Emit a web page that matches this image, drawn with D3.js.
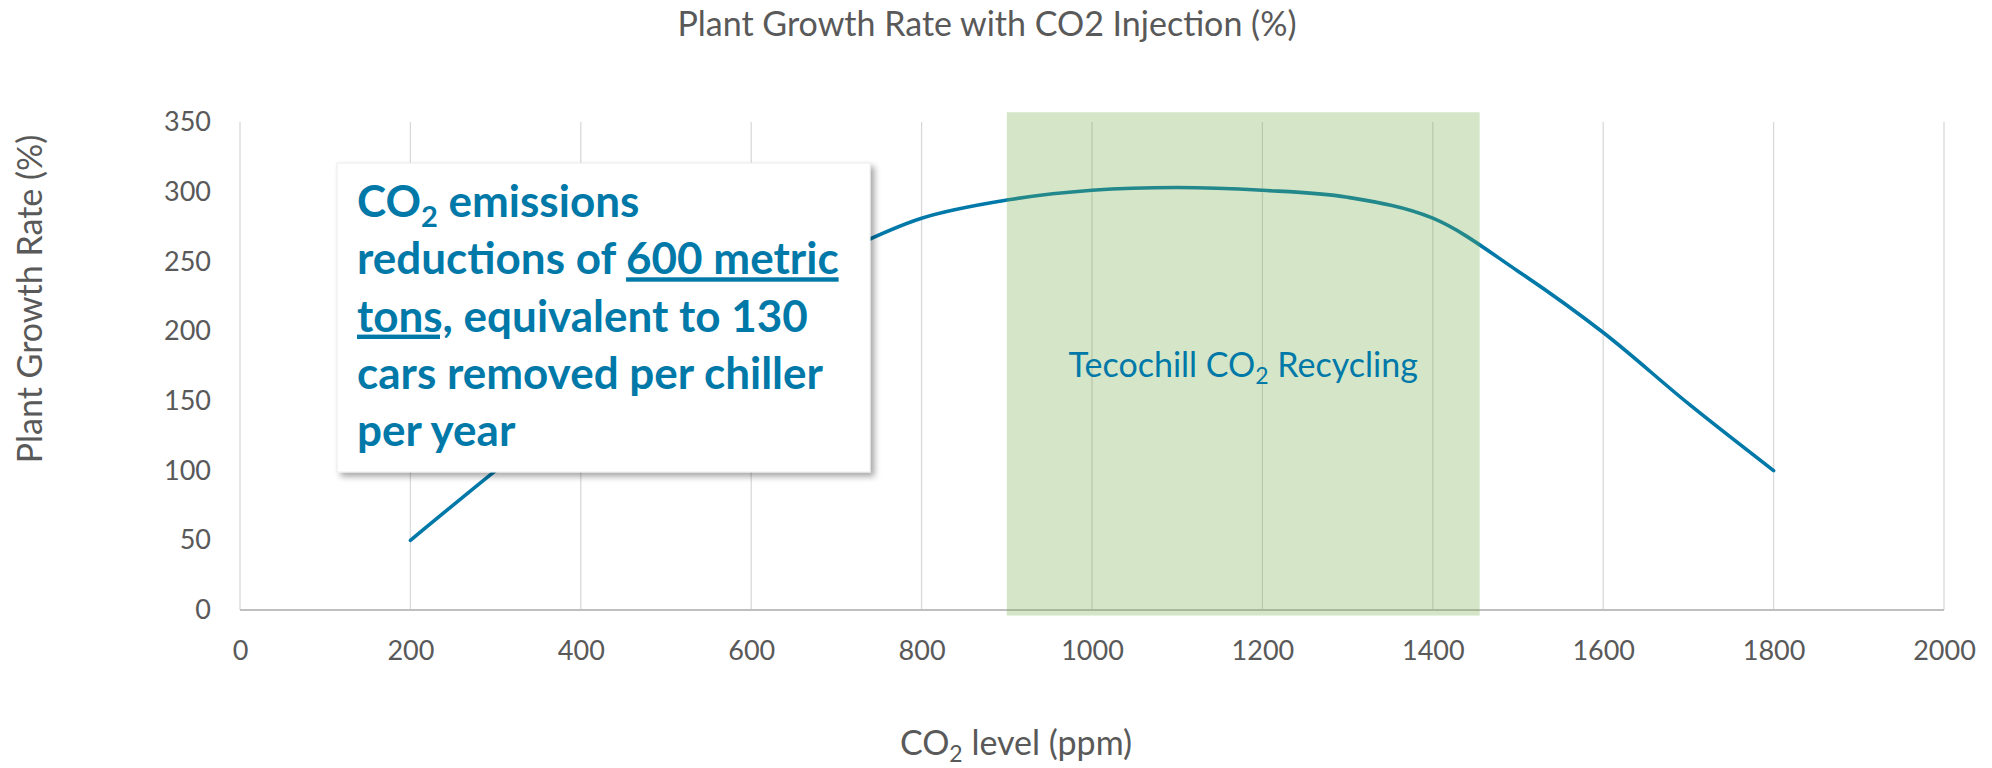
<!DOCTYPE html>
<html lang="en">
<head>
<meta charset="UTF-8">
<title>Plant Growth Rate with CO2 Injection</title>
<script src="https://d3js.org/d3.v7.min.js"></script>
<style>
  body { margin: 0; background: #fff; }
  svg text { font-family: Lato, "Open Sans", sans-serif; }
  .tick text { fill: #595959; font-size: 27px; }
  .note { fill: #0079a9; font-weight: 700; font-size: 44px; }
  .u { text-decoration: underline; text-decoration-skip-ink: none; }
</style>
</head>
<body>
<script>
// data (the part under the note box is estimated)
const co2Level   = [200, 300, 400, 500, 600, 700, 800, 900, 1000, 1100, 1200, 1300, 1400, 1500, 1600, 1700, 1800];
const growthRate = [ 50, 100, 148, 190, 225, 255, 281, 294,  301,  303,  301,  296,  281,  243,  199,  148,  100];

const xTickValues = [0, 200, 400, 600, 800, 1000, 1200, 1400, 1600, 1800, 2000];
const yTickValues = [0, 50, 100, 150, 200, 250, 300, 350];

// shaded "Tecochill" range on the x axis, and its vertical extent in %
const bandRange  = [900, 1455];
const bandHeight = [-4, 357];

const width = 1992, height = 768;
const margin = { top: 122, right: 48, bottom: 158, left: 240 };

const svg = d3.select('body').append('svg')
    .attr('width', width)
    .attr('height', height);

const xScale = d3.scaleLinear().domain([0, 2000]).range([margin.left, width - margin.right]);
const yScale = d3.scaleLinear().domain([0, 350]).range([height - margin.bottom, margin.top]);

// drop shadow for the note box
const defs = svg.append('defs');
defs.append('filter').attr('id', 'shadow')
    .attr('x', '-10%').attr('y', '-10%').attr('width', '130%').attr('height', '130%')
  .append('feDropShadow')
    .attr('dx', 4).attr('dy', 4).attr('stdDeviation', 3)
    .attr('flood-color', '#000').attr('flood-opacity', 0.35);

// vertical gridlines
svg.append('g')
    .selectAll('line')
    .data(xTickValues)
    .join('line')
    .attr('x1', d => xScale(d)).attr('x2', d => xScale(d))
    .attr('y1', yScale(350)).attr('y2', yScale(0))
    .attr('stroke', '#d9d9d9')
    .attr('stroke-width', 1.3);

// x axis labels
const xAxis = d3.axisBottom(xScale).tickValues(xTickValues).tickFormat(d3.format('d'))
    .tickSize(0).tickPadding(31);
svg.append('g')
    .attr('transform', 'translate(0,' + yScale(0) + ')')
    .call(xAxis)
    .call(g => g.select('.domain').remove());

// y axis labels
const yAxis = d3.axisLeft(yScale).tickValues(yTickValues).tickSize(0).tickPadding(29);
svg.append('g')
    .attr('transform', 'translate(' + margin.left + ',0)')
    .call(yAxis)
    .call(g => g.select('.domain').remove());

// x axis line
svg.append('line')
    .attr('x1', xScale(0)).attr('x2', xScale(2000))
    .attr('y1', yScale(0)).attr('y2', yScale(0))
    .attr('stroke', '#bfbfbf')
    .attr('stroke-width', 2);

// growth curve
const line = d3.line()
    .x((d, i) => xScale(co2Level[i]))
    .y(d => yScale(d))
    .curve(d3.curveCatmullRom.alpha(0.5));

svg.append('path')
    .datum(growthRate)
    .attr('d', line)
    .attr('fill', 'none')
    .attr('stroke', '#0079a9')
    .attr('stroke-width', 3.6)
    .attr('stroke-linecap', 'round');

// green band drawn over the line, semi transparent
svg.append('rect')
    .attr('x', xScale(bandRange[0]))
    .attr('width', xScale(bandRange[1]) - xScale(bandRange[0]))
    .attr('y', yScale(bandHeight[1]))
    .attr('height', yScale(bandHeight[0]) - yScale(bandHeight[1]))
    .attr('fill', '#70ad47')
    .attr('fill-opacity', 0.3);

const bandText = svg.append('text')
    .attr('x', xScale((bandRange[0] + bandRange[1]) / 2))
    .attr('y', 377)
    .attr('text-anchor', 'middle')
    .attr('fill', '#0079a9')
    .attr('font-size', 34);
bandText.append('tspan').text('Tecochill CO');
bandText.append('tspan').attr('font-size', 23).attr('dy', 7).text('2');
bandText.append('tspan').attr('dy', -7).text(' Recycling');

// titles
svg.append('text')
    .attr('x', 987).attr('y', 36)
    .attr('text-anchor', 'middle')
    .attr('fill', '#595959')
    .attr('font-size', 34)
    .text('Plant Growth Rate with CO2 Injection (%)');

svg.append('text')
    .attr('transform', 'translate(42,299) rotate(-90)')
    .attr('text-anchor', 'middle')
    .attr('fill', '#595959')
    .attr('font-size', 34)
    .text('Plant Growth Rate (%)');

const xTitle = svg.append('text')
    .attr('x', 1016).attr('y', 755)
    .attr('text-anchor', 'middle')
    .attr('fill', '#595959')
    .attr('font-size', 34);
xTitle.append('tspan').text('CO');
xTitle.append('tspan').attr('font-size', 23).attr('dy', 7).text('2');
xTitle.append('tspan').attr('dy', -7).text(' level (ppm)');

// note box
const note = svg.append('g');
note.append('rect')
    .attr('x', 337).attr('y', 163)
    .attr('width', 533).attr('height', 309)
    .attr('fill', '#fff')
    .attr('stroke', '#ececec')
    .attr('filter', 'url(#shadow)');

const lh = 57.3;
const noteText = note.append('text').attr('class', 'note').attr('x', 357).attr('y', 217);
noteText.append('tspan').text('CO');
noteText.append('tspan').attr('font-size', 29).attr('dy', 10).text('2');
noteText.append('tspan').attr('dy', -10).text(' emissions');

const l2 = note.append('text').attr('class', 'note').attr('x', 357).attr('y', 217 + lh);
l2.append('tspan').text('reductions of ');
l2.append('tspan').attr('class', 'u').text('600 metric');

const l3 = note.append('text').attr('class', 'note').attr('x', 357).attr('y', 217 + lh * 2);
l3.append('tspan').attr('class', 'u').text('tons,');
l3.append('tspan').text(' equivalent to 130');

note.append('text').attr('class', 'note').attr('x', 357).attr('y', 217 + lh * 3)
    .text('cars removed per chiller');
note.append('text').attr('class', 'note').attr('x', 357).attr('y', 217 + lh * 4)
    .text('per year');
</script>
</body>
</html>
